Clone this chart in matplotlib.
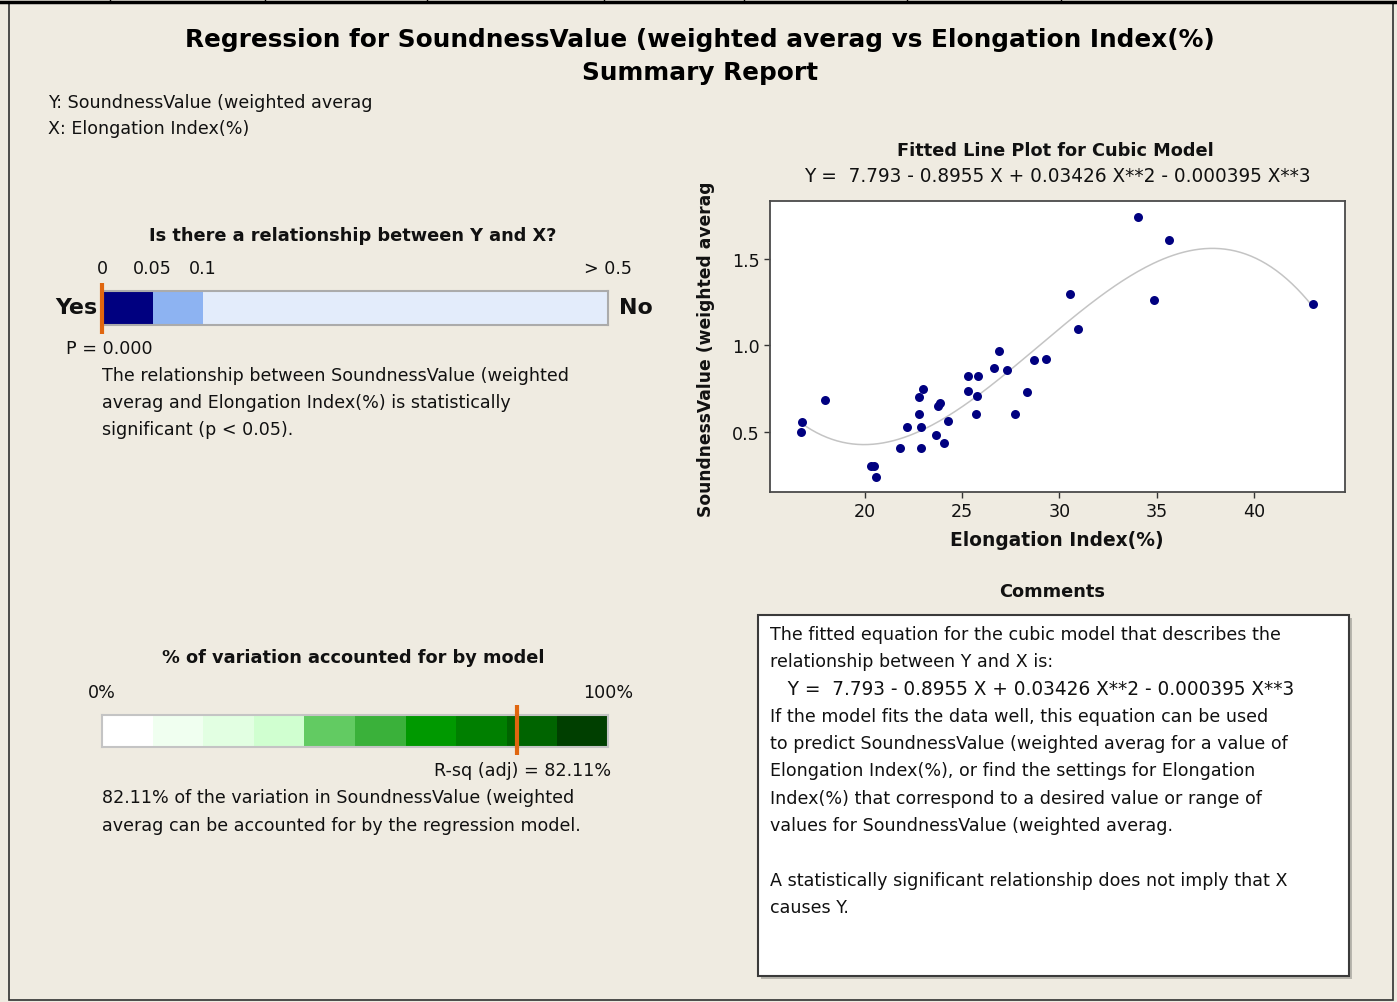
import numpy as np
import matplotlib
matplotlib.use("Agg")
from matplotlib import pyplot as plt
from matplotlib.patches import Rectangle
from matplotlib.lines import Line2D

# ---- data ----
elong = [16.72, 16.77, 17.97, 20.29, 20.49, 20.55, 21.78, 22.17, 22.76, 22.76,
         22.97, 22.89, 22.89, 23.64, 23.77, 23.85, 24.07, 24.28, 25.30, 25.83,
         25.30, 25.77, 25.69, 26.65, 26.88, 27.31, 27.70, 28.35, 28.70, 29.31,
         30.56, 30.93, 34.02, 35.64, 34.84, 43.01]
sound = [0.498, 0.556, 0.682, 0.305, 0.305, 0.239, 0.408, 0.531, 0.603, 0.701,
         0.749, 0.531, 0.408, 0.483, 0.651, 0.669, 0.435, 0.561, 0.826, 0.826,
         0.739, 0.707, 0.603, 0.868, 0.966, 0.858, 0.603, 0.732, 0.916, 0.923,
         1.295, 1.094, 1.745, 1.609, 1.262, 1.239]
coefs = [7.793, -0.8955, 0.03426, -0.000395]   # cubic fit, constant first

p_value = 0.0
p_edges = [0, 0.05, 0.1, 0.5]
p_colors = ["#000080", "#8DB3F2", "#E3ECFB"]
p_ticks = [0, 0.05, 0.1, 0.5]
p_ticklabels = ["0", "0.05", "0.1", "> 0.5"]

rsq_adj = 82.11
rsq_edges = list(range(0, 101, 10))
rsq_colors = ["#FFFFFF", "#F0FFF0", "#E2FFE2", "#D0FFD0", "#62CB62",
              "#3AB13A", "#009900", "#007F00", "#006400", "#003F00"]

xticks = [20, 25, 30, 35, 40]
yticks = [0.5, 1.0, 1.5]

eq = "Y =  7.793 - 0.8955 X + 0.03426 X**2 - 0.000395 X**3"
comments = [
    "The fitted equation for the cubic model that describes the",
    "relationship between Y and X is:",
    "   " + eq,
    "If the model fits the data well, this equation can be used",
    "to predict SoundnessValue (weighted averag for a value of",
    "Elongation Index(%), or find the settings for Elongation",
    "Index(%) that correspond to a desired value or range of",
    "values for SoundnessValue (weighted averag.",
    "",
    "A statistically significant relationship does not imply that X",
    "causes Y.",
]

# ---- layout helpers (pixel coords, origin top-left) ----
W, H = 1397, 1003
BG = "#EFEBE1"
ORANGE = "#E0660F"
FONT = "DejaVu Sans"
plt.rcParams["font.family"] = FONT

fig = plt.figure(figsize=(W / 100, H / 100), dpi=100, facecolor=BG)
renderer = fig.canvas.get_renderer()


def fit(s, width, weight="normal"):
    t = fig.text(0, 0, s, fontsize=10, fontweight=weight)
    w = t.get_window_extent(renderer).width
    t.remove()
    return 10 * width / w


def txt(x, y, s, size, weight="normal", ha="left", color="#111111", **kw):
    return fig.text(x / W, 1 - y / H, s, fontsize=size, fontweight=weight,
                    ha=ha, va="center", color=color, **kw)


def axes_px(l, t, r, b, **kw):
    return fig.add_axes([l / W, 1 - b / H, (r - l) / W, (b - t) / H], **kw)


fs_body = fit(comments[0], 508)
fs_eq = fit(eq, 506)
fs_title = fit("Regression for SoundnessValue (weighted averag vs Elongation Index(%)", 1026, "bold")
fs_head = fit("Is there a relationship between Y and X?", 407, "bold")

# outer frame and top strip
fig.add_artist(Rectangle((9 / W, 1 - 1001 / H), 1384 / W, 998 / H, transform=fig.transFigure,
                         fill=False, ec="#303030", lw=1.2))
fig.add_artist(Line2D([0, 1], [1 - 3 / H] * 2, transform=fig.transFigure, color="black", lw=2.5))
for vx in [110, 265, 427, 604, 744, 907, 1061]:
    fig.add_artist(Line2D([vx / W] * 2, [1, 1 - 3 / H], transform=fig.transFigure, color="black", lw=1))

# titles
txt(700, 40, "Regression for SoundnessValue (weighted averag vs Elongation Index(%)", fs_title, "bold", "center", "black")
txt(700, 73, "Summary Report", fs_title, "bold", "center", "black")
txt(48, 103, "Y: SoundnessValue (weighted averag", fs_body)
txt(48, 129, "X: Elongation Index(%)", fs_body)

# ---- p-value bar ----
txt(353, 236, "Is there a relationship between Y and X?", fs_head, "bold", "center")
ax_p = axes_px(102, 292, 608, 326)
for i, c in enumerate(p_colors):
    ax_p.barh(0, p_edges[i + 1] - p_edges[i], left=p_edges[i], height=1, color=c, lw=0)
ax_p.set_xlim(p_edges[0], p_edges[-1])
ax_p.set_ylim(-0.5, 0.5)
ax_p.set_yticks([])
ax_p.xaxis.tick_top()
ax_p.set_xticks(p_ticks, p_ticklabels, fontsize=fs_body, color="#111111")
ax_p.tick_params(axis="x", length=0, pad=10)
for sp in ax_p.spines.values():
    sp.set_color("#ABABAB")
    sp.set_linewidth(1.5)
ax_p.vlines(p_value, -0.27, 1.25, transform=ax_p.get_xaxis_transform(),
            color=ORANGE, lw=3, clip_on=False, zorder=5)
txt(97, 308, "Yes", fs_head * 1.25, "bold", "right")
txt(619, 308, "No", fs_head * 1.25, "bold", "left")
txt(66, 349, "P = 0.000", fs_body)
for i, s in enumerate(["The relationship between SoundnessValue (weighted",
                       "averag and Elongation Index(%) is statistically",
                       "significant (p < 0.05)."]):
    txt(102, 376 + 27 * i, s, fs_body)

# ---- R-sq bar ----
txt(353, 658, "% of variation accounted for by model", fs_head, "bold", "center")
ax_r = axes_px(102, 716, 608, 748)
for i, c in enumerate(rsq_colors):
    ax_r.barh(0, rsq_edges[i + 1] - rsq_edges[i], left=rsq_edges[i], height=1, color=c, lw=0)
ax_r.set_xlim(0, 100)
ax_r.set_ylim(-0.5, 0.5)
ax_r.set_yticks([])
ax_r.xaxis.tick_top()
ax_r.set_xticks([0, 100], ["0%", "100%"], fontsize=fs_body, color="#111111")
ax_r.tick_params(axis="x", length=0, pad=10)
for sp in ax_r.spines.values():
    sp.set_color("#C4C4C4")
    sp.set_linewidth(1.5)
ax_r.vlines(rsq_adj, -0.25, 1.3, transform=ax_r.get_xaxis_transform(),
            color=ORANGE, lw=3, clip_on=False, zorder=5)
txt(611, 771, f"R-sq (adj) = {rsq_adj:.2f}%", fs_body, ha="right")
txt(102, 798, f"{rsq_adj:.2f}% of the variation in SoundnessValue (weighted", fs_body)
txt(102, 826, "averag can be accounted for by the regression model.", fs_body)

# ---- fitted line plot ----
txt(1055, 151, "Fitted Line Plot for Cubic Model", fs_head, "bold", "center")
txt(1057, 177, eq, fs_eq, ha="center")
ax = axes_px(770, 202, 1345, 493, facecolor="white")
xs = np.linspace(min(elong), max(elong), 200)
ys = sum(c * xs ** k for k, c in enumerate(coefs))
ax.plot(xs, ys, color="#C4C4C4", lw=1.1, zorder=1)
ax.scatter(elong, sound, s=42, color="#000080", zorder=2, lw=0)
ax.set_xlim(15.12, 44.68)
ax.set_ylim(0.153, 1.835)
ax.set_xticks(xticks)
ax.set_yticks(yticks, [f"{v:.1f}" for v in yticks])
ax.tick_params(labelsize=fs_body, colors="#333333", labelcolor="#111111", length=4, width=1)
for sp in ax.spines.values():
    sp.set_color("#4A4A4A")
    sp.set_linewidth(1.3)
txt(1057, 540, "Elongation Index(%)", fs_head * 1.05, "bold", "center")
txt(706, 349, "SoundnessValue (weighted averag", fs_head * 0.97, "bold", "center", rotation=90)

# ---- comments box ----
txt(1052, 592, "Comments", fs_head, "bold", "center")
fig.add_artist(Rectangle((761 / W, 1 - 980 / H), 591 / W, 361 / H, transform=fig.transFigure,
                         fc="#B8B6AE", ec="none"))
fig.add_artist(Rectangle((758 / W, 1 - 977 / H), 591 / W, 361 / H, transform=fig.transFigure,
                         fc="white", ec="#3A3A3A", lw=1.5))
for i, s in enumerate(comments):
    txt(770, 635 + 27.3 * i, s, fs_eq if s.strip().startswith("Y =") else fs_body)

fig.savefig("out.png", dpi=100, facecolor=BG)
